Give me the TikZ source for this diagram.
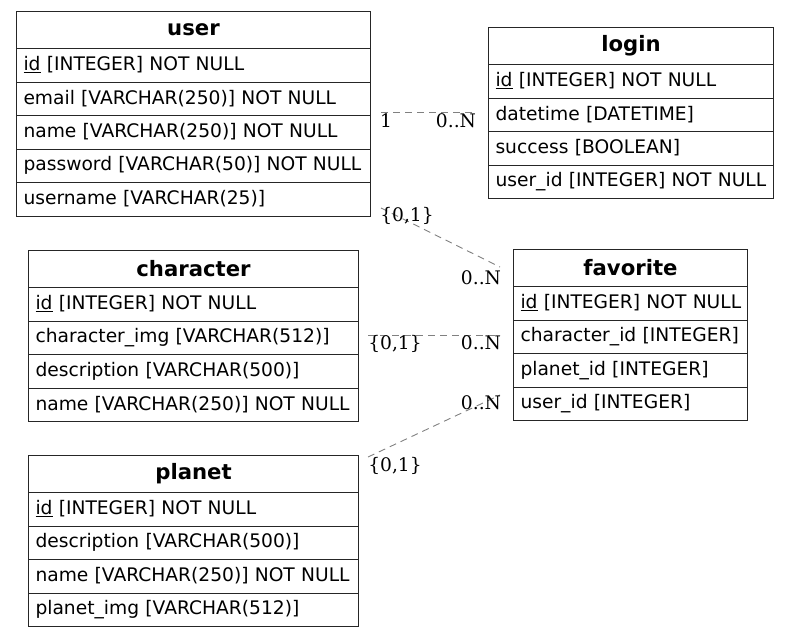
\documentclass[tikz,border=0pt]{standalone}
\usepackage{fontspec}
\setmainfont{DejaVu Sans}
\newfontfamily\lblfont{DejaVu Serif}
\usetikzlibrary{calc}
\tikzset{
  tbl/.style={draw=black!85, line width=1pt, anchor=north west, inner xsep=7pt, inner ysep=0pt,
    font=\fontsize{18.67}{22}\selectfont},
  hdr/.style={tbl, minimum height=37pt, align=center, font=\fontsize{21.2}{24}\selectfont\bfseries},
  rowbox/.style={tbl, minimum height=33.5pt, align=left},
  rel/.style={draw=gray, line width=0.9pt, dash pattern=on 7pt off 5pt},
  card/.style={font=\lblfont\fontsize{18.67}{22}\selectfont, inner sep=0pt}
}
\newcommand\erdtable[6]{%
  \node[hdr, text width=#4pt-14pt] (#1) at (#2,#3) {\raisebox{1pt}{#5}};
  \foreach \r [count=\i] in {#6} {
    \node[rowbox, text width=#4pt-14pt] (#1-\i) at (#2,{#3+37+(\i-1)*33.5}) {\raisebox{3.5pt}{\r}};
  }
}
\begin{document}
\begin{tikzpicture}[x=1pt,y=-1pt]
\useasboundingbox (0,0) rectangle (789,637);
\erdtable{user}{16}{11}{354}{user}{\underline{id} [INTEGER] NOT NULL, email [VARCHAR(250)] NOT NULL, name [VARCHAR(250)] NOT NULL, password [VARCHAR(50)] NOT NULL, username [VARCHAR(25)]}
\erdtable{login}{488}{27}{285}{login}{\underline{id} [INTEGER] NOT NULL, datetime [DATETIME], success [BOOLEAN], user\_id [INTEGER] NOT NULL}
\erdtable{character}{28}{250}{330}{character}{\underline{id} [INTEGER] NOT NULL, character\_img [VARCHAR(512)], description [VARCHAR(500)], name [VARCHAR(250)] NOT NULL}
\erdtable{favorite}{513}{249}{234}{favorite}{\underline{id} [INTEGER] NOT NULL, character\_id [INTEGER], planet\_id [INTEGER], user\_id [INTEGER]}
\erdtable{planet}{28}{455}{330}{planet}{\underline{id} [INTEGER] NOT NULL, description [VARCHAR(500)], name [VARCHAR(250)] NOT NULL, planet\_img [VARCHAR(512)]}

% connector end points
\coordinate (u1) at (381,112);
\coordinate (l1) at (476,112);
\coordinate (u2) at (381,208);
\coordinate (f1) at (500,267);
\coordinate (c1) at (368,335);
\coordinate (f2) at (500,335);
\coordinate (p1) at (368,457);
\coordinate (f3) at (500,395);

\draw[rel] (u1) -- (l1);
\draw[rel] (u2) -- (f1);
\draw[rel] (c1) -- (f2);
\draw[rel] (p1) -- (f3);

\node[card] (lb1) at (386,121) {1};
\node[card] (lb2) at (456,121) {0..N};
\node[card] (lb3) at (407,216) {\{0,1\}};
\node[card] (lb4) at (481,278) {0..N};
\node[card] (lb5) at (395,344) {\{0,1\}};
\node[card] (lb6) at (481,343) {0..N};
\node[card] (lb7) at (395,466) {\{0,1\}};
\node[card] (lb8) at (481,403) {0..N};
\end{tikzpicture}
\end{document}
